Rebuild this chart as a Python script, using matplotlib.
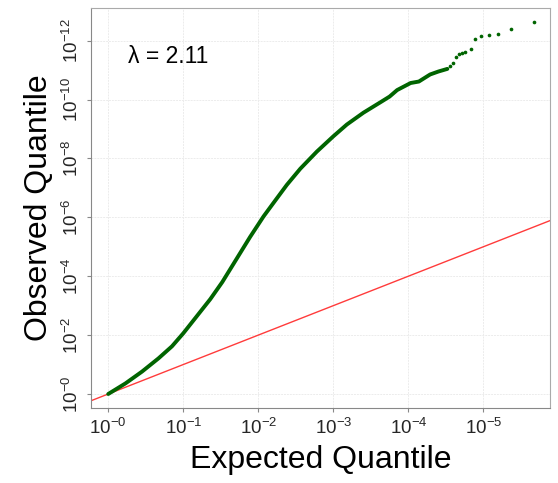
import matplotlib
matplotlib.use("Agg")
import matplotlib.pyplot as plt

plt.rcParams['font.family'] = ['Liberation Sans', 'DejaVu Sans']
plt.rcParams['mathtext.fontset'] = 'custom'
plt.rcParams['mathtext.rm'] = 'Liberation Sans'

# -log10 Werte: dichter Teil der Kurve
curve_exp = [0.0, 0.23, 0.45, 0.67, 0.85, 1.0, 1.18, 1.36, 1.52, 1.67, 1.89,
             2.07, 2.20, 2.38, 2.56, 2.78, 3.0, 3.18, 3.40, 3.63, 3.75, 3.85, 4.03,
             4.14, 4.29, 4.40, 4.52]
curve_obs = [0.0, 0.36, 0.76, 1.21, 1.62, 2.06, 2.64, 3.22, 3.80, 4.42, 5.33,
             6.03, 6.48, 7.10, 7.65, 8.23, 8.75, 9.15, 9.55, 9.91, 10.10, 10.32, 10.56,
             10.61, 10.85, 10.95, 11.04]

# einzelne Punkte am oberen Ende
tail_exp = [4.55, 4.59, 4.63, 4.67, 4.72, 4.76, 4.83, 4.89, 4.97, 5.07, 5.19, 5.37, 5.67]
tail_obs = [11.14, 11.24, 11.43, 11.56, 11.57, 11.60, 11.70, 12.04, 12.14, 12.20, 12.24, 12.38, 12.62]

x_ticks = [0, 1, 2, 3, 4, 5]
y_ticks = [0, 2, 4, 6, 8, 10, 12]
lam = 2.11

fig = plt.figure(figsize=(5.58, 4.83), dpi=100)
ax = fig.add_axes([0.163, 0.155, 0.823, 0.828])

ax.grid(True, color='#ececec', linewidth=0.7, linestyle=(0, (2, 1)))
ax.set_axisbelow(True)

ax.axline((0, 0), (1, 1), color='#ff3b3b', linewidth=1.0, zorder=2)
ax.plot(curve_exp, curve_obs, color='#006400', linewidth=2.8,
        solid_capstyle='round', solid_joinstyle='round', zorder=3)
ax.scatter(tail_exp, tail_obs, s=7, color='#006400', linewidths=0, zorder=3)

ax.set_xlim(-0.23, 5.89)
ax.set_ylim(-0.48, 13.1)
ax.set_xticks(x_ticks)
ax.set_yticks(y_ticks)
ax.set_xticklabels([r'$10^{-%d}$' % t for t in x_ticks])
ax.set_yticklabels([r'$10^{-%d}$' % t for t in y_ticks], rotation=90, va='center')
ax.tick_params(labelsize=13.5, length=3, color='#888888', labelcolor='#262626')

for side in ['left', 'bottom']:
    ax.spines[side].set_color('#888888')
for side in ['top', 'right']:
    ax.spines[side].set_color('#aaaaaa')

ax.set_xlabel('Expected Quantile', fontsize=23, labelpad=5)
ax.set_ylabel('Observed Quantile', fontsize=23, labelpad=5)

ax.text(0.27, 11.46, 'λ = %.2f' % lam, fontsize=16.5, va='center', ha='left')

fig.savefig('out.png', dpi=100)
